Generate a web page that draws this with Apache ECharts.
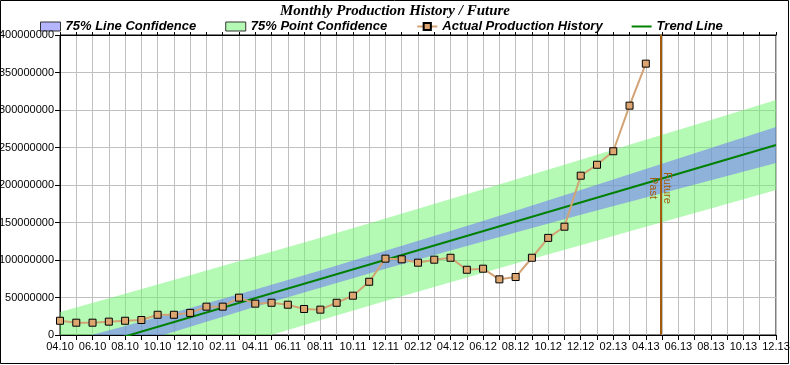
<!DOCTYPE html>
<html>
<head>
<meta charset="utf-8">
<script src="https://cdn.jsdelivr.net/npm/echarts@6/dist/echarts.min.js"></script>
<style>
html,body{margin:0;padding:0;background:#fff;}
#c{width:790px;height:365px;}
</style>
</head>
<body>
<div id="c"></div>
<script>
// Month tick labels (index 0 = 04.10)
const months = ['04.10','05.10','06.10','07.10','08.10','09.10','10.10','11.10','12.10',
  '01.11','02.11','03.11','04.11','05.11','06.11','07.11','08.11','09.11','10.11','11.11','12.11',
  '01.12','02.12','03.12','04.12','05.12','06.12','07.12','08.12','09.12','10.12','11.12','12.12',
  '01.13','02.13','03.13','04.13','05.13','06.13','07.13','08.13','09.13','10.13','11.13','12.13'];
// Actual production history (millions), monthly from 04.10 to 04.13
const production = [19, 16.4, 16.4, 17.8, 19, 20, 27, 27, 29.5, 37.8, 37.8, 49.8, 41.8, 43, 40.4,
  34.7, 33.8, 43, 52.4, 71, 101.8, 100.9, 96.4, 100.4, 103, 87, 88.4, 74.2, 77.3, 103, 129.5,
  144.4, 212.4, 227, 245, 305.8, 361.8];
// Trend line end points (month index, millions)
const trendX = [0, 44];
const trendY = [-27.4, 253.3];
// Confidence band edges (millions) at sampled month indices
const bandX = [0, 4, 8, 12, 16, 20, 24, 28, 32, 36, 40, 44];
const lineConfLow  = [-43.4, -15.9, 11.1, 37.6, 63.1, 88.2, 112.7, 136.7, 160.2, 183.2, 206.3, 229.3];
const lineConfHigh = [-11.4, 12.1, 36.1, 60.6, 86.1, 112.2, 138.7, 165.7, 193.2, 221.2, 249.3, 277.3];
const pointConfLow  = [-85.4, -58.9, -32.4, -6.4, 19.6, 45.2, 70.2, 95.2, 119.7, 144.2, 168.8, 193.3];
const pointConfHigh = [30.6, 55.1, 79.6, 104.6, 129.6, 155.2, 181.2, 207.2, 233.7, 260.2, 286.8, 313.3];
// Past / Future divider (month index) and label level (millions)
const dividerX = 36.9;
const dividerLabelY = 196;

const GREEN = 'rgba(105,245,105,0.5)';
const BLUE = 'rgba(105,105,255,0.5)';
const BROWN = '#A25B0C';

const chart = echarts.init(document.getElementById('c'), null, {renderer: 'canvas'});

function bandRenderer(lo, hi, color) {
  return function (params, api) {
    if (params.dataIndex !== 0) return null;
    const pts = [];
    for (let i = 0; i < bandX.length; i++) pts.push(api.coord([bandX[i], hi[i]]));
    for (let i = bandX.length - 1; i >= 0; i--) pts.push(api.coord([bandX[i], lo[i]]));
    const cs = params.coordSys;
    return {
      type: 'polygon',
      shape: {points: pts},
      style: {fill: color, stroke: null},
      clipPath: {type: 'rect', shape: {x: cs.x, y: cs.y, width: cs.width, height: cs.height}}
    };
  };
}

const legendFont = {fontFamily: 'Liberation Sans', fontWeight: 'bold', fontStyle: 'italic', fontSize: 13, color: '#000'};

chart.setOption({
  animation: false,
  backgroundColor: '#fff',
  title: {
    text: 'Monthly Production History / Future',
    left: 'center', top: 4, padding: 0,
    textStyle: {fontFamily: 'Liberation Serif', fontWeight: 'bold', fontStyle: 'italic', fontSize: 15, color: '#000'}
  },
  legend: {
    left: 40, top: 20, padding: 0, itemGap: 29, itemWidth: 20, itemHeight: 9,
    textStyle: legendFont,
    data: [
      {name: '75% Line Confidence', icon: 'rect', itemStyle: {color: BLUE, borderColor: '#333', borderWidth: 1}},
      {name: '75% Point Confidence', icon: 'rect', itemStyle: {color: GREEN, borderColor: '#333', borderWidth: 1}},
      {name: 'Actual Production History'},
      {name: 'Trend Line', icon: 'path://M0,4 L20,4 L20,6 L0,6 Z', itemStyle: {color: '#008000'}}
    ]
  },
  grid: {left: 60, right: 14, top: 35, bottom: 30, containLabel: false, outerBoundsMode: 'none',
         show: true, borderColor: '#000', borderWidth: 1, backgroundColor: 'transparent'},
  xAxis: [{
    type: 'value', min: 0, max: 44, interval: 1,
    axisLine: {lineStyle: {color: '#000'}},
    axisTick: {length: 5, lineStyle: {color: '#000'}},
    axisLabel: {
      margin: 6, color: '#000', fontFamily: 'Liberation Sans', fontSize: 11,
      formatter: v => (v % 2 === 0 ? months[v] : '')
    },
    splitLine: {show: true, lineStyle: {color: '#C0C0C0', width: 1}}
  }, {
    type: 'value', min: 0, max: 44, interval: 1, position: 'top',
    axisLine: {lineStyle: {color: '#000'}},
    axisTick: {length: 3, lineStyle: {color: '#000'}},
    axisLabel: {show: false},
    splitLine: {show: false}
  }],
  yAxis: {
    type: 'value', min: 0, max: 400, interval: 50,
    axisLine: {show: true, lineStyle: {color: '#000'}},
    axisTick: {show: true, length: 5, lineStyle: {color: '#000'}},
    axisLabel: {
      margin: 6, color: '#000', fontFamily: 'Liberation Sans', fontSize: 11,
      formatter: v => String(Math.round(v * 1000000))
    },
    splitLine: {show: true, lineStyle: {color: '#C0C0C0', width: 1}}
  },
  series: [
    {
      name: '75% Point Confidence', type: 'custom', clip: true,
      data: [[0, 0]], silent: true,
      itemStyle: {color: GREEN},
      renderItem: bandRenderer(pointConfLow, pointConfHigh, GREEN)
    },
    {
      name: '75% Line Confidence', type: 'custom', clip: true,
      data: [[0, 0]], silent: true,
      itemStyle: {color: BLUE},
      renderItem: bandRenderer(lineConfLow, lineConfHigh, BLUE)
    },
    {
      name: 'Trend Line', type: 'line', data: trendX.map((x, i) => [x, trendY[i]]), symbol: 'none',
      itemStyle: {color: '#008000'},
      lineStyle: {color: '#008000', width: 2}
    },
    {
      name: 'Actual Production History', type: 'line',
      data: production.map((v, i) => [i, v]),
      symbol: 'rect', symbolSize: 7, showAllSymbol: true,
      itemStyle: {color: '#DDA671', borderColor: '#000', borderWidth: 1},
      lineStyle: {color: '#D2A374', width: 2},
      markLine: {
        silent: true, symbol: 'none', animation: false,
        label: {show: false},
        lineStyle: {color: BROWN, width: 2, type: 'solid'},
        data: [{xAxis: dividerX}]
      }
    }
  ]
});

const p = chart.convertToPixel({gridIndex: 0}, [dividerX, dividerLabelY]);
chart.setOption({
  graphic: [
    {type: 'text', x: p[0] - 7, y: p[1], rotation: -Math.PI / 2, z: 100,
     style: {text: 'Past', fill: BROWN, font: '11px "Liberation Sans"', align: 'center', verticalAlign: 'middle'}},
    {type: 'text', x: p[0] + 7, y: p[1], rotation: -Math.PI / 2, z: 100,
     style: {text: 'Future', fill: BROWN, font: '11px "Liberation Sans"', align: 'center', verticalAlign: 'middle'}},
    {type: 'rect', shape: {x: 0.5, y: 0.5, width: 788, height: 363}, z: 100,
     style: {fill: null, stroke: '#000', lineWidth: 1}}
  ]
});
</script>
</body>
</html>
